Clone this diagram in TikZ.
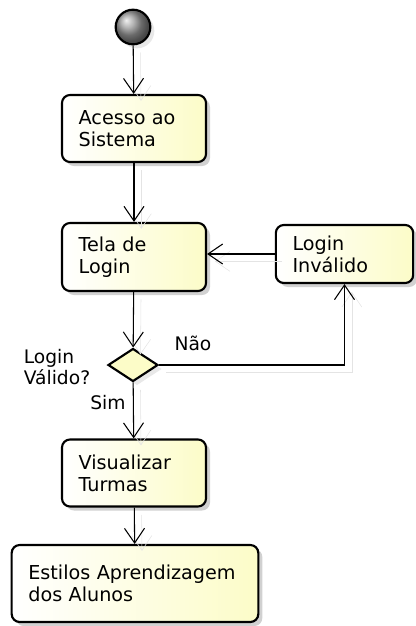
\documentclass[tikz,border=0pt]{standalone}
\usepackage{fontspec}
\setmainfont{DejaVu Sans}
\usetikzlibrary{arrows.meta,shapes.geometric,shadows}

\definecolor{fundo}{RGB}{252,252,200}
\definecolor{sombra}{RGB}{228,228,228}

\tikzset{
  atividade/.style={draw, line width=1.6pt, rounded corners=6pt, align=left,
    inner xsep=12.5pt, inner ysep=0pt, left color=white, right color=fundo,
    drop shadow={shadow xshift=3pt, shadow yshift=-3pt, fill=black, opacity=0.18},
    font=\fontsize{14.4}{16.5}\selectfont},
  rotulo/.style={inner sep=0pt, align=left, font=\fontsize{14}{16}\selectfont},
  seta/.style={line width=0.8pt, -{Straight Barb[length=11pt,width=15pt]},
    preaction={draw=sombra, transform canvas={shift={(5.5pt,-5.5pt)}}}}
}

\begin{document}
\begin{tikzpicture}[x=0.75pt, y=-0.75pt]
        \useasboundingbox (0,0) rectangle (415,626);

        % nó inicial
        \node[circle, draw, line width=1.6pt, minimum size=26pt, inner sep=0pt,
              ball color=gray!80, drop shadow={shadow xshift=3pt, shadow yshift=-3pt, opacity=0.18}]
              (inicio) at (133,27) {};

        % atividades
        \node[atividade, text width=83pt, minimum height=50.25pt] (acesso) at (134,128.5) {Acesso ao\\Sistema};
        \node[atividade, text width=83pt, minimum height=51pt] (tela) at (134,257) {Tela de\\Login};
        \node[atividade, text width=78pt, minimum height=43.5pt] (invalido) at (344.5,254) {Login\\Inválido};
        \node[atividade, text width=83pt, minimum height=50.25pt] (visualizar) at (134,473) {Visualizar\\Turmas};
        \node[atividade, text width=160pt, minimum height=57.75pt] (estilos) at (135,583.5) {Estilos Aprendizagem\\dos Alunos};

        % decisão
        \node[diamond, draw, line width=1.6pt, fill=fundo, minimum width=37.5pt, minimum height=24.75pt,
              inner sep=0pt, drop shadow={shadow xshift=3pt, shadow yshift=-3pt, opacity=0.18}]
              (decisao) at (133,365) {};

        % textos da decisão
        \node[rotulo] (pergunta) at (57,367) {Login\\Válido?};
        \node[rotulo] (nao) at (193,343) {Não};
        \node[rotulo] (sim) at (108,403) {Sim};

        % fluxo
        \draw[seta] (inicio) -- (acesso);
        \draw[seta] (acesso) -- (tela);
        \draw[seta] (tela) -- (decisao);
        \draw[seta] (decisao) -- (visualizar);
        \draw[seta] (visualizar) -- (estilos);
        \draw[seta] (invalido.west) -- (tela.east |- invalido.west);
        \draw[seta] (decisao.east) -| (invalido.south);
    \end{tikzpicture}
\end{document}
